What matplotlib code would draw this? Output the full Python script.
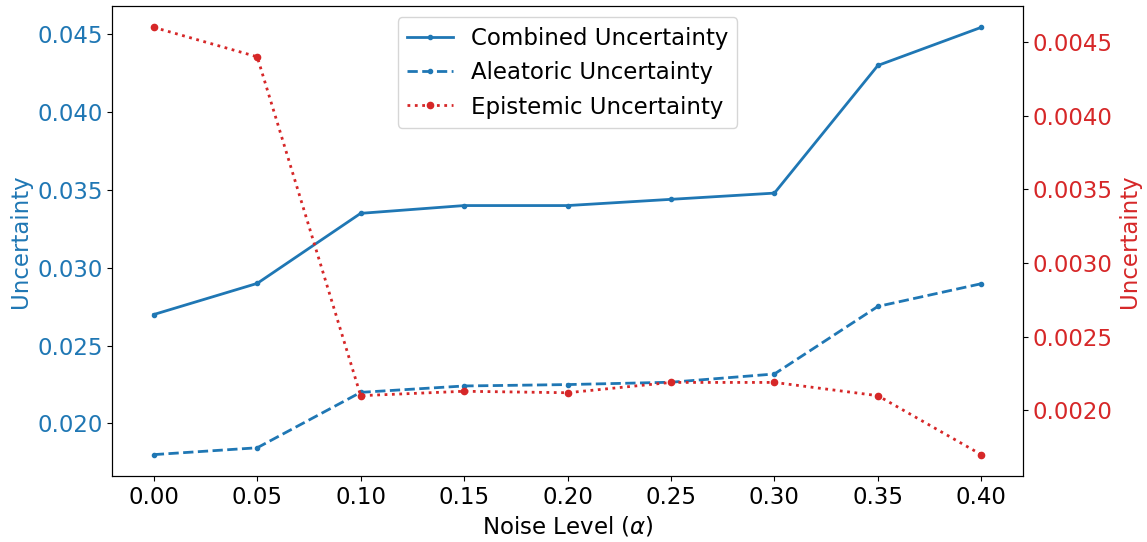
import numpy as np
import matplotlib
matplotlib.use("Agg")
import matplotlib.pyplot as plt

noise = [0.00, 0.05, 0.10, 0.15, 0.20, 0.25, 0.30, 0.35, 0.40]
combined = [0.0270, 0.0290, 0.0335, 0.0340, 0.0340, 0.0344, 0.0348, 0.0430, 0.04545]
aleatoric = [0.0180, 0.01844, 0.0220, 0.02241, 0.0225, 0.02265, 0.02318, 0.02752, 0.02898]
epistemic = [0.0046, 0.0044, 0.0021, 0.00213, 0.00212, 0.00219, 0.00219, 0.0021, 0.0017]

blue = 'tab:blue'
red = 'tab:red'
fs = 16.5

fig, ax1 = plt.subplots(figsize=(11.47, 5.42), dpi=100)
fig.subplots_adjust(left=0.098, right=0.8916, top=0.989, bottom=0.1218)

l1, = ax1.plot(noise, combined, '-', marker='.', color=blue, lw=2, label='Combined Uncertainty')
l2, = ax1.plot(noise, aleatoric, '--', marker='.', color=blue, lw=2, label='Aleatoric Uncertainty')
ax1.set_xlabel(r'Noise Level ($\alpha$)', fontsize=fs)
ax1.set_ylabel('Uncertainty', color=blue, fontsize=fs)
ax1.tick_params(axis='y', labelcolor=blue, labelsize=fs)
ax1.tick_params(axis='x', labelsize=fs)
ax1.set_xticks(noise)

ax2 = ax1.twinx()
l3, = ax2.plot(noise, epistemic, ':', marker='.', markersize=9, color=red, lw=2, label='Epistemic Uncertainty')
ax2.set_ylabel('Uncertainty', color=red, fontsize=fs)
ax2.tick_params(axis='y', labelcolor=red, labelsize=fs)

ax1.legend(handles=[l1, l2, l3], loc='upper center', fontsize=fs)

plt.savefig('out.png')
